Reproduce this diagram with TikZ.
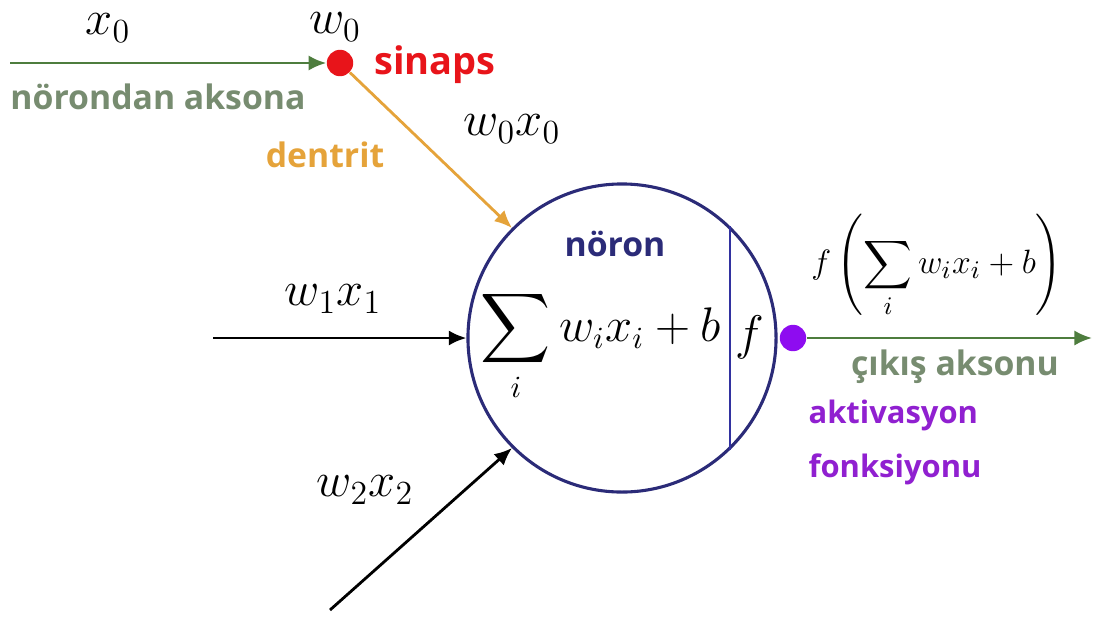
\documentclass[tikz,border=0pt]{standalone}
\usepackage{fontspec}
\usepackage{amsmath}
\usepackage{xcolor}
\usepackage{tikz}
\usetikzlibrary{arrows.meta,positioning}
\newfontfamily\lblfont{Open Sans}
\definecolor{NNavy}{HTML}{2B2B78}
\definecolor{NBlue}{HTML}{3232A0}
\definecolor{NGreen}{HTML}{4E7D3E}
\definecolor{NGreenT}{HTML}{778C70}
\definecolor{NRed}{HTML}{E8141A}
\definecolor{NOrange}{HTML}{E5A33A}
\definecolor{NPurple}{HTML}{8E0CF0}
\definecolor{NPurpleT}{HTML}{9020D0}

\begin{document}
\begin{tikzpicture}[x=0.0125cm,y=-0.0125cm,
  lbl/.style={font=\lblfont\bfseries\fontsize{12}{14}\selectfont,inner sep=0pt},
  m/.style={font=\fontsize{18}{21}\selectfont,inner sep=0pt},
  dot/.style={circle,inner sep=0pt,minimum size=0.33cm},
  a/.style={-{Latex[length=2.2mm,width=1.9mm]},line width=1pt}
]
  \useasboundingbox (0,0) rectangle (1097,619);
  \node[circle,draw=NNavy,line width=1.1pt,minimum size=3.85cm,inner sep=0pt] (neuron) at (622,338) {};
  \draw[NBlue,line width=1pt] (neuron.46) -- (neuron.-46);
  \node[lbl,text=NNavy] (neurontxt) at (615,244) {nöron};
  \node[font=\fontsize{16}{19}\selectfont,inner sep=0pt] (sum) at (601,346) {$\displaystyle\sum_i w_ix_i+b$};
  \node[m] (f) at (750,337) {$f$};
  \node[dot,fill=NRed] (syn) at (340,63) {};
  \node[dot,fill=NPurple] (act) at (793,338) {};
  \coordinate (in0) at (10,63);
  \coordinate (in1) at (213,338);
  \coordinate (in2) at (330,610);
  \coordinate (out) at (1092,338);
  \draw[a,NGreen] (in0) -- (syn);
  \draw[a,NOrange] (syn) -- (neuron.135);
  \draw[a] (in1) -- (neuron.west);
  \draw[a] (in2) -- (neuron.225);
  \draw[a,NGreen] (act) -- (out);
  \node[m] (x0) at (108,28) {$x_0$};
  \node[m] (w0) at (335,27) {$w_0$};
  \node[lbl,text=NRed,font=\lblfont\bfseries\fontsize{13.5}{15}\selectfont] (syntxt) at (435,65) {sinaps};
  \node[lbl,text=NGreenT] (axin) at (158,97) {nörondan aksona};
  \node[m] (w0x0) at (512,129) {$w_0x_0$};
  \node[lbl,text=NOrange] (dentxt) at (325,155) {dentrit};
  \node[m] (w1x1) at (333,299) {$w_1x_1$};
  \node[m] (w2x2) at (365,490) {$w_2x_2$};
  \node[font=\fontsize{13}{15}\selectfont,inner sep=0pt] (fsum) at (937,266) {$f\left(\displaystyle\sum_i w_ix_i+b\right)$};
  \node[lbl,text=NGreenT] (axout) at (955,367) {çıkış aksonu};
  \node[lbl,text=NPurpleT,font=\lblfont\bfseries\fontsize{11}{13}\selectfont,anchor=west] (acttxt) at (808,415) {aktivasyon};
  \node[lbl,text=NPurpleT,font=\lblfont\bfseries\fontsize{11}{13}\selectfont,below=0.28cm of acttxt.south west,anchor=north west] (acttxt2) {fonksiyonu};
\end{tikzpicture}
\end{document}
